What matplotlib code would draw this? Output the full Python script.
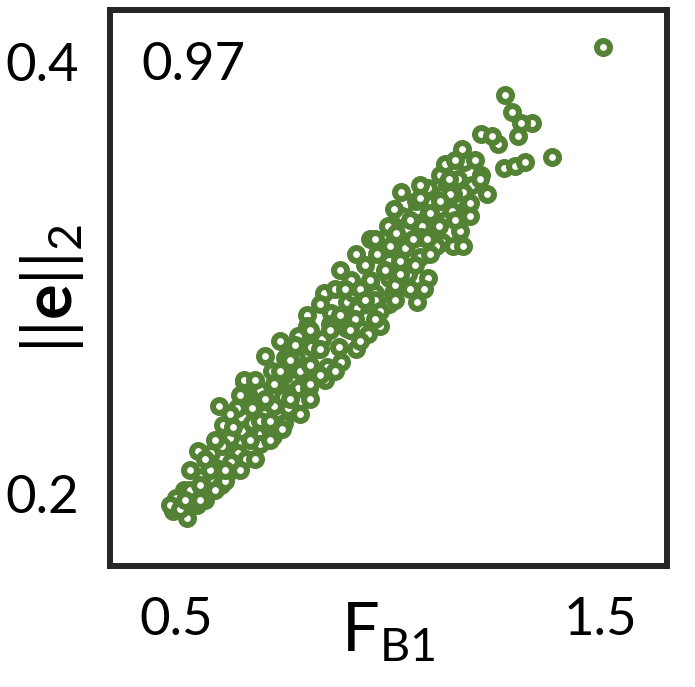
import matplotlib
matplotlib.use("Agg")
import matplotlib.pyplot as plt

plt.rcParams['font.family'] = ['Lato', 'DejaVu Sans']
plt.rcParams['mathtext.fontset'] = 'custom'
plt.rcParams['mathtext.rm'] = 'Lato'
plt.rcParams['mathtext.bf'] = 'Lato:bold'
plt.rcParams['mathtext.it'] = 'Lato:italic'

# F_B1 values
fb1 = [0.661, 0.732, 0.787, 0.602, 0.680, 0.708, 0.732, 0.765, 0.794, 0.663,
       0.694, 0.755, 0.694, 0.730, 0.628, 0.665, 0.612, 0.582, 0.647, 0.632,
       0.561, 0.606, 0.520, 0.500, 0.549, 0.526, 0.494, 0.665, 0.608,
       0.849, 0.910, 0.957, 0.904, 0.927, 0.865, 0.949, 0.863, 0.901, 0.953,
       0.788, 0.845, 0.834, 0.885, 0.924, 0.783, 0.889, 0.857, 0.727, 0.824,
       0.755, 0.852, 0.661, 0.814, 0.675,
       1.033, 1.065, 1.097, 1.120, 0.999, 1.044, 1.080, 1.120, 1.018, 0.989,
       1.040, 0.924, 0.973, 1.075, 1.003, 1.047, 1.093, 1.003, 0.912, 0.957,
       1.085, 1.011, 1.003, 1.067, 1.077, 1.128,
       1.219, 1.259, 1.307, 1.173, 1.179, 1.274, 1.298, 1.322, 1.122, 1.165,
       1.220, 1.139, 1.197, 1.030, 1.093, 1.126, 1.176, 1.232, 1.065, 1.101,
       1.151, 1.014, 1.185, 1.169, 1.105, 1.152, 1.177,
       1.275, 1.291, 1.338, 1.314, 1.244, 1.387, 1.506,
       # partly hidden points
       0.655, 0.679, 0.630, 0.594, 0.533, 0.553, 0.698, 0.761, 0.749,
       0.810, 0.818, 0.757, 0.698, 0.752, 0.643, 0.635,
       0.808, 0.918, 0.969, 0.980, 0.887, 0.957, 1.027, 1.114,
       1.059, 1.091, 1.098, 1.153, 1.193, 1.216,
       0.486, 0.510, 0.533, 0.557, 0.581, 0.569, 0.592, 0.628, 0.651, 0.686,
       0.569, 0.616, 0.698, 0.722, 0.792, 0.816, 0.840, 0.792, 0.769, 0.745,
       0.710, 0.780, 0.816,
       0.887, 0.875, 0.840, 0.934, 0.969, 0.922, 0.980, 1.016, 1.051, 0.945,
       1.004, 1.063, 1.098, 1.075, 1.134, 1.146, 1.157, 1.204,
       0.675, 0.710, 0.745, 0.863, 0.945, 0.993, 0.910, 0.816, 0.651, 0.557,
       0.616, 0.769, 0.840, 0.969, 1.051, 1.122, 1.016, 0.898, 0.722, 0.686,
       0.592, 0.521, 0.816, 0.875, 0.934, 0.969, 1.027, 1.157, 1.193, 1.075,
       1.143]

# ||e||_2 values
enorm = [0.252, 0.251, 0.249, 0.241, 0.240, 0.237, 0.241, 0.240, 0.243, 0.247,
         0.247, 0.233, 0.228, 0.227, 0.226, 0.230, 0.232, 0.219, 0.219, 0.211,
         0.208, 0.204, 0.202, 0.198, 0.195, 0.189, 0.192, 0.216, 0.222,
         0.293, 0.298, 0.298, 0.289, 0.286, 0.284, 0.282, 0.279, 0.277, 0.274,
         0.273, 0.272, 0.267, 0.268, 0.267, 0.263, 0.261, 0.259, 0.257, 0.256,
         0.255, 0.253, 0.253, 0.249, 0.231,
         0.329, 0.331, 0.335, 0.332, 0.324, 0.323, 0.324, 0.324, 0.321, 0.318,
         0.314, 0.311, 0.311, 0.310, 0.308, 0.302, 0.300, 0.300, 0.299, 0.299,
         0.295, 0.293, 0.288, 0.289, 0.319, 0.317,
         0.367, 0.362, 0.366, 0.360, 0.354, 0.351, 0.352, 0.354, 0.348, 0.346,
         0.348, 0.344, 0.343, 0.340, 0.342, 0.339, 0.340, 0.339, 0.336, 0.335,
         0.331, 0.332, 0.333, 0.322, 0.317, 0.315, 0.315,
         0.385, 0.377, 0.372, 0.372, 0.366, 0.356, 0.407,
         # partly hidden points
         0.229, 0.233, 0.215, 0.212, 0.211, 0.220, 0.234, 0.247, 0.230,
         0.283, 0.268, 0.263, 0.248, 0.245, 0.240, 0.231,
         0.278, 0.293, 0.293, 0.278, 0.304, 0.318, 0.308, 0.315,
         0.318, 0.318, 0.330, 0.339, 0.335, 0.346,
         0.195, 0.193, 0.202, 0.204, 0.211, 0.216, 0.225, 0.237, 0.246, 0.253,
         0.197, 0.206, 0.223, 0.234, 0.237, 0.244, 0.255, 0.257, 0.262, 0.271,
         0.264, 0.269, 0.276,
         0.283, 0.295, 0.288, 0.295, 0.290, 0.281, 0.285, 0.297, 0.295, 0.306,
         0.315, 0.306, 0.311, 0.343, 0.353, 0.339, 0.355, 0.355,
         0.225, 0.244, 0.257, 0.276, 0.290, 0.304, 0.276, 0.260, 0.211, 0.197,
         0.211, 0.244, 0.267, 0.318, 0.327, 0.336, 0.290, 0.295, 0.225, 0.216,
         0.202, 0.197, 0.251, 0.257, 0.271, 0.281, 0.302, 0.327, 0.329, 0.337,
         0.346]

xticks = [0.5, 1.5]
xticklabels = ['0.5', '1.5']
yticks = [0.2, 0.4]
yticklabels = ['0.2', '0.4']
corr_text = '0.97'

green = '#548235'
frame = '#262626'

fig = plt.figure(figsize=(6.95, 6.87), dpi=100)
ax = fig.add_axes([0.1583, 0.1761, 0.8014, 0.8093])

ax.scatter(fb1, enorm, s=87, facecolors='white', edgecolors=green,
           linewidths=4.35, zorder=3)

ax.set_xlim(0.345, 1.657)
ax.set_ylim(0.1666, 0.4243)
ax.set_xticks(xticks)
ax.set_xticklabels(xticklabels)
ax.set_yticks(yticks)
ax.set_yticklabels(yticklabels)
ax.tick_params(axis='both', length=0, labelsize=38, colors='black')
ax.tick_params(axis='x', pad=22)
ax.tick_params(axis='y', pad=22)

for sp in ax.spines.values():
    sp.set_linewidth(4.3)
    sp.set_color(frame)

ax.text(0.056, 0.874, corr_text, transform=ax.transAxes, fontsize=38,
        ha='left', va='baseline', color='black')

fig.text(388.5 / 695, 1 - 652 / 687, r'$\mathregular{F_{B1}}$', fontsize=48,
         ha='center', va='baseline')
fig.text(52 / 695, 1 - 288 / 687,
         r'$\mathregular{||}\mathbf{e}\mathregular{||_{2}}$', fontsize=48,
         rotation=90, ha='center', va='center')

fig.savefig('out.png', dpi=100)
